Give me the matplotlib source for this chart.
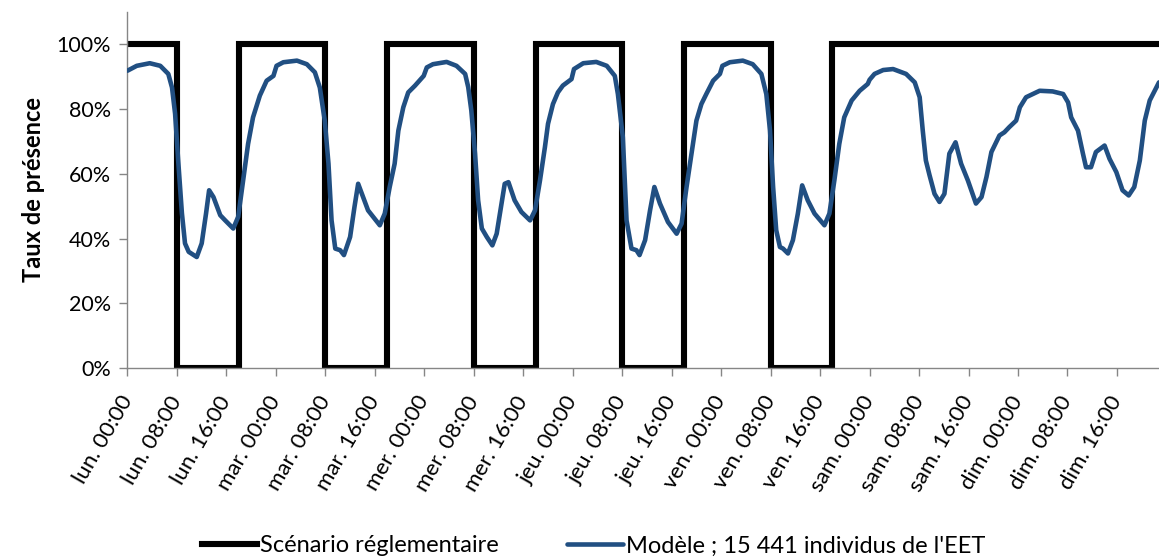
import numpy as np
import matplotlib.pyplot as plt

plt.rcParams['font.family'] = ['Lato', 'DejaVu Sans']

# Scénario réglementaire (heures depuis lundi 00:00, valeur en palier)
reg_heures = [0, 8, 18, 32, 42, 56, 66, 80, 90, 104, 114, 166.8]
reg_valeurs = [1, 0, 1, 0, 1, 0, 1, 0, 1, 0, 1, 1]

# Modèle ; 15 441 individus de l'EET
mod_heures = [0, 1.5, 3.6, 5.3, 6.6, 7.2, 7.7, 8.2, 8.8, 9.3, 9.9, 11.2, 12.0, 12.7,
              13.2, 13.9, 15.0, 15.8, 17.1, 17.9, 18.7, 19.5, 20.3, 21.4, 22.5, 23.6,
              24.1, 25.2, 27.4, 29.0, 30.3, 31.1, 31.9, 32.5, 33.0, 33.6, 34.4, 35.0,
              36.0, 36.7, 37.3, 38.9, 40.8, 41.6, 42.4, 43.2, 43.8, 44.6, 45.4, 46.5,
              47.3, 47.9, 48.4, 49.4, 51.6, 53.2, 54.6, 55.1, 55.6, 56.2, 56.7, 57.3,
              58.1, 59.0, 59.7, 60.3, 61.0, 61.6, 62.6, 63.7, 65.1, 65.9, 66.7, 67.5,
              68.0, 68.8, 69.6, 70.4, 71.8, 72.2, 73.7, 75.8, 77.5, 78.8, 79.3, 80.1,
              80.7, 81.5, 82.3, 82.8, 83.7, 84.5, 85.2, 86.1, 87.4, 88.8, 89.6, 90.4,
              91.2, 92.0, 92.8, 93.6, 94.7, 95.8, 96.2, 97.4, 99.5, 101.1, 102.5, 103.3,
              103.9, 104.4, 104.9, 105.5, 106.0, 106.8, 107.6, 108.4, 109.1, 110.0, 111.1,
              112.7, 113.5, 114.3, 115.1, 115.9, 117.1, 118.4, 119.7, 120.0, 120.8, 122.2,
              123.8, 125.9, 127.3, 128.1, 128.6, 129.1, 129.7, 130.5, 131.3, 132.1, 132.9,
              133.9, 134.8, 135.9, 137.2, 138.1, 138.9, 139.7, 141.0, 141.8, 142.6, 143.7,
              144.3, 145.3, 147.5, 149.6, 151.3, 152.1, 152.6, 153.7, 154.5, 155.0, 155.8,
              156.6, 158.0, 158.8, 159.9, 160.9, 161.9, 162.8, 163.7, 164.5, 165.3, 166.8]
mod_valeurs = [91.8, 93.3, 94.1, 93.3, 90.8, 86.6, 78.5, 64.0, 47.8, 38.5, 35.9, 34.3, 38.5, 47.7,
               54.9, 52.8, 47.2, 45.6, 43.1, 46.7, 57.9, 69.2, 77.4, 84.1, 88.7, 90.2,
               93.3, 94.4, 94.9, 93.8, 91.3, 86.6, 76.4, 63.1, 45.6, 36.9, 36.4, 34.9,
               40.5, 49.7, 56.9, 48.7, 44.1, 47.7, 55.9, 63.1, 73.3, 80.5, 85.1, 87.2,
               88.9, 90.2, 92.8, 93.8, 94.5, 93.3, 90.8, 86.7, 79.5, 66.2, 51.8, 43.1,
               40.5, 37.9, 41.5, 48.7, 56.9, 57.4, 51.8, 48.2, 45.6, 48.7, 57.9, 68.2,
               75.4, 81.5, 85.1, 87.2, 89.2, 92.3, 94.1, 94.5, 93.3, 90.2, 84.6, 71.3,
               45.6, 36.9, 36.4, 34.9, 39.5, 48.7, 55.9, 50.8, 45.1, 41.5, 44.6, 55.9,
               66.2, 76.4, 81.5, 84.6, 88.7, 90.8, 93.3, 94.4, 94.9, 93.8, 90.8, 84.6,
               73.3, 55.9, 42.6, 37.4, 36.9, 35.4, 39.5, 47.7, 56.4, 51.8, 47.7,
               44.1, 47.7, 57.9, 69.2, 77.4, 82.6, 85.6, 87.7, 89.0, 90.8, 92.0,
               92.3, 90.8, 88.2, 83.6, 73.3, 64.1, 59.5, 53.8, 51.3, 53.8, 66.2,
               69.7, 63.1, 57.9, 50.8, 52.8, 59.0, 66.7, 71.8, 72.8, 74.4, 76.4,
               80.5, 83.6, 85.6, 85.4, 84.6, 82.0, 77.4, 73.3, 66.2, 62.0, 62.0,
               66.7, 68.7, 64.6, 60.5, 54.9, 53.3, 55.9, 64.1, 76.4, 82.6, 88.2]

jours = ['lun.', 'mar.', 'mer.', 'jeu.', 'ven.', 'sam.', 'dim.']
heures_ticks = ['00:00', '08:00', '16:00']
tick_labels = [f'{j} {h}' for j in jours for h in heures_ticks]

fig = plt.figure(figsize=(11.59, 5.57), dpi=100)
ax = fig.add_axes([0.110, 0.339, 0.890, 0.640])

ax.plot(reg_heures, reg_valeurs, drawstyle='steps-post', color='black', lw=4.4,
        solid_joinstyle='miter', label='Scénario réglementaire', zorder=2)
ax.plot(mod_heures, np.array(mod_valeurs) / 100, color='#214f82', lw=3.3,
        solid_joinstyle='round', solid_capstyle='round',
        label="Modèle ; 15 441 individus de l'EET", zorder=3)

ax.set_xlim(0, 166.8)
ax.set_ylim(0, 1.1)
ax.set_yticks(np.arange(0, 1.01, 0.2))
ax.set_yticklabels([f'{int(round(v * 100))}%' for v in np.arange(0, 1.01, 0.2)], fontsize=15.5)
ax.set_xticks(np.arange(0, 161, 8))
ax.set_xticklabels(tick_labels, rotation=60, ha='right', va='center',
                   rotation_mode='anchor', fontsize=16)
ax.tick_params(axis='both', direction='out', length=6, width=1, color='#868686')
ax.tick_params(axis='x', pad=15)
ax.tick_params(axis='y', pad=6)

for side in ['top', 'right']:
    ax.spines[side].set_visible(False)
for side in ['left', 'bottom']:
    ax.spines[side].set_color('#868686')
    ax.spines[side].set_linewidth(1)

ax.set_ylabel('Taux de présence', fontsize=17, fontweight='bold', labelpad=8)

fig.legend(loc='center', bbox_to_anchor=(0.512, 0.02), ncol=2, frameon=False,
           fontsize=17, handlelength=2.35, handletextpad=0.12, columnspacing=2.9,
           borderaxespad=0)

fig.savefig('out.png', dpi=100)
